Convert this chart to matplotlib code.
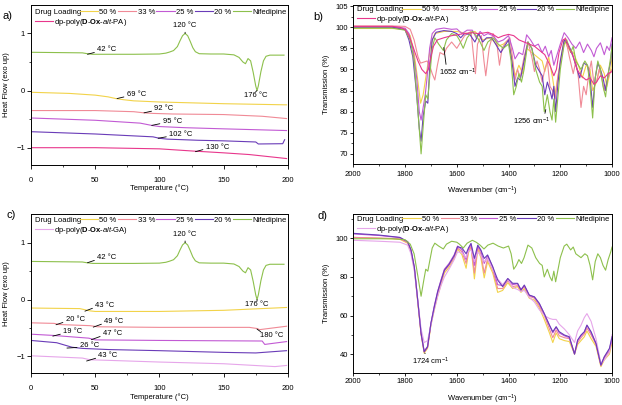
import matplotlib
matplotlib.use('Agg')
import matplotlib.pyplot as plt
from matplotlib.lines import Line2D

plt.rcParams['font.family'] = ['Liberation Sans', 'DejaVu Sans']
plt.rcParams['mathtext.fontset'] = 'custom'
plt.rcParams['mathtext.rm'] = 'Liberation Sans'
plt.rcParams['mathtext.it'] = 'Liberation Sans:italic'
plt.rcParams['mathtext.bf'] = 'Liberation Sans:bold'

# colours of the series
c50 = '#f2d34a'
c33 = '#f08a96'
c25 = '#c25ad4'
c20 = '#6a3cb8'
cnif = '#8dc04c'
cpa = '#e8378c'
cga = '#e6a6ea'

load_labels = ['50 %', '33 %', '25 %', '20 %', 'Nifedipine']
pa_label = 'dp-poly($\\mathbf{D}$-$\\mathbf{Ox}$-$\\mathit{alt}$-PA)'
ga_label = 'dp-poly($\\mathbf{D}$-$\\mathbf{Ox}$-$\\mathit{alt}$-GA)'

# ---- DSC data (temperature in C, heat flow) ----
nif_t = [0, 20, 40, 44, 48, 60, 80, 100, 105, 108, 111, 114, 116, 118, 120, 122, 124, 126, 128, 131,
         140, 150, 158, 162, 165, 167, 169, 171, 173, 175, 176, 177, 179, 181, 183, 186, 197]
nif_h = [0.67, 0.665, 0.66, 0.645, 0.635, 0.635, 0.635, 0.64, 0.655, 0.675, 0.7, 0.77, 0.87, 0.96, 1.0, 0.96,
         0.86, 0.75, 0.68, 0.645, 0.64, 0.64, 0.625, 0.58, 0.5, 0.47, 0.56, 0.52, 0.32, 0.08, 0.0, 0.08,
         0.33, 0.52, 0.6, 0.62, 0.62]

a50_t = [0, 30, 50, 60, 66, 72, 80, 100, 150, 199]
a50_h = [-0.03, -0.05, -0.08, -0.11, -0.14, -0.16, -0.18, -0.2, -0.23, -0.25]
a33_t = [0, 50, 80, 88, 95, 110, 150, 180, 199]
a33_h = [-0.35, -0.35, -0.37, -0.39, -0.4, -0.41, -0.42, -0.45, -0.49]
a25_t = [0, 50, 85, 94, 100, 120, 150, 199]
a25_h = [-0.48, -0.52, -0.57, -0.61, -0.63, -0.65, -0.67, -0.7]
a20_t = [0, 50, 95, 100, 106, 130, 150, 175, 177, 196, 197.5]
a20_h = [-0.72, -0.76, -0.81, -0.835, -0.85, -0.87, -0.88, -0.9, -0.935, -0.93, -0.86]
apa_t = [0, 50, 100, 127, 135, 150, 170, 199]
apa_h = [-1.0, -1.0, -1.02, -1.06, -1.07, -1.09, -1.12, -1.19]

c50_t = [0, 38, 42, 46, 50, 100, 150, 199]
c50_h = [-0.15, -0.16, -0.18, -0.2, -0.21, -0.21, -0.19, -0.14]
c33_t = [0, 18, 22, 46, 52, 100, 170, 176, 178, 199]
c33_h = [-0.41, -0.42, -0.44, -0.46, -0.48, -0.49, -0.49, -0.51, -0.53, -0.47]
c25_t = [0, 16, 22, 45, 50, 100, 180, 182, 199]
c25_h = [-0.61, -0.63, -0.64, -0.68, -0.71, -0.72, -0.73, -0.79, -0.74]
c20_t = [0, 20, 26, 32, 40, 60, 100, 150, 175, 199]
c20_h = [-0.72, -0.76, -0.8, -0.84, -0.86, -0.88, -0.9, -0.93, -0.94, -0.9]
cga_t = [0, 40, 46, 60, 100, 150, 190, 199]
cga_h = [-0.99, -1.03, -1.06, -1.07, -1.1, -1.13, -1.18, -1.16]

# ---- FTIR data (wavenumber, transmission %) ----
nif_wn = [2000, 1850, 1800, 1780, 1765, 1750, 1738, 1728, 1720, 1712, 1705, 1695, 1685, 1670, 1652,
          1640, 1620, 1600, 1590, 1575, 1560, 1540, 1525, 1510, 1495, 1480, 1460, 1440, 1420, 1400,
          1390, 1380, 1370, 1360, 1350, 1340, 1325, 1310, 1295, 1280, 1270, 1262, 1250, 1240, 1232,
          1225, 1218, 1210, 1200, 1185, 1175, 1160, 1150, 1140, 1120, 1105, 1095, 1085, 1075, 1065,
          1055, 1045, 1035, 1025, 1015, 1005, 1000]
nif_tr = [99.8, 99.8, 99.3, 97, 92, 80, 70, 78, 84, 83, 88, 95, 97.5, 96, 94.5,
          97, 98.5, 98, 97, 95, 97.5, 99, 98, 96.5, 94.5, 96.5, 97.5, 96, 95, 96,
          92, 84, 86, 89, 87, 90, 96.5, 95, 90, 87, 86, 80, 84, 80, 78,
          83, 77.5, 83, 90, 96, 97, 94, 95.5, 92, 90, 92, 91, 86, 78.5, 88,
          92, 90, 86, 83.5, 89, 93, 95.5]

b50_wn = [2000, 1850, 1800, 1780, 1765, 1750, 1740, 1730, 1720, 1710, 1700, 1685, 1650, 1600, 1560,
          1530, 1500, 1470, 1440, 1420, 1400, 1385, 1375, 1360, 1345, 1330, 1310, 1290, 1270, 1260,
          1245, 1230, 1220, 1205, 1185, 1170, 1150, 1130, 1115, 1100, 1085, 1075, 1060, 1045, 1030,
          1020, 1005, 1000]
b50_tr = [99.7, 99.7, 99.5, 98, 94, 87, 82, 84, 88, 92, 96, 98.5, 99, 99, 98.5,
          99, 97, 97.5, 95.5, 96, 97, 92, 88.5, 91, 89, 95, 94, 93, 92, 89.5,
          93, 88, 84, 90, 97, 95, 94, 91, 88, 91, 90, 85, 87, 91, 89,
          86, 90, 93]

b33_wn = [2000, 1850, 1800, 1780, 1765, 1750, 1740, 1725, 1715, 1705, 1695, 1685, 1675, 1665, 1650,
          1640, 1620, 1600, 1585, 1570, 1545, 1535, 1528, 1520, 1505, 1495, 1488, 1475, 1460, 1445,
          1435, 1425, 1410, 1395, 1385, 1375, 1365, 1355, 1340, 1325, 1310, 1300, 1290, 1280, 1270,
          1260, 1250, 1240, 1230, 1220, 1210, 1195, 1180, 1165, 1150, 1140, 1130, 1120, 1110, 1100,
          1090, 1080, 1070, 1060, 1050, 1040, 1030, 1020, 1010, 1000]
b33_tr = [100.3, 100.3, 100.2, 99.5, 97, 93, 91.5, 91.8, 92, 91, 89, 87.5, 91, 94, 93.5,
          95, 96.5, 95, 96.5, 98, 99, 93, 89, 96, 98, 92, 88.5, 95, 98.5, 96,
          91, 95, 96.5, 97.5, 93, 87.5, 90, 88, 93, 96.5, 93, 89.5, 92, 90, 87,
          90, 92, 86, 85, 83, 88, 93, 97.5, 93, 89, 92, 88, 81, 86, 84,
          89, 92, 86.5, 87, 90, 88, 85, 87, 89, 90]

b25_wn = [2000, 1850, 1800, 1785, 1770, 1755, 1745, 1738, 1730, 1722, 1715, 1705, 1695, 1680, 1650,
          1620, 1600, 1580, 1560, 1540, 1525, 1510, 1495, 1480, 1460, 1440, 1420, 1400, 1385, 1375,
          1360, 1345, 1330, 1315, 1300, 1285, 1270, 1258, 1245, 1235, 1225, 1215, 1200, 1185, 1170,
          1155, 1140, 1125, 1110, 1095, 1080, 1070, 1060, 1045, 1030, 1020, 1010, 1000]
b25_tr = [100, 100, 99.8, 98.5, 95, 88, 80, 78, 81, 84, 88, 95, 98.5, 99.5, 99.8,
          99.5, 99.6, 98.5, 99.3, 99.3, 97.5, 99, 98, 98.5, 98, 96.5, 97, 98, 95, 92.5,
          94, 93.5, 98.2, 97, 95.5, 96, 94, 95.5, 93, 94.5, 91, 93, 96, 98.7, 97.5,
          96, 95, 96.5, 94, 96, 94.5, 93, 95, 96.3, 93.5, 95.5, 94.5, 97.5]

b20_wn = [2000, 1850, 1800, 1785, 1770, 1755, 1745, 1738, 1730, 1720, 1712, 1705, 1695, 1680, 1650,
          1620, 1600, 1585, 1570, 1550, 1530, 1515, 1500, 1485, 1465, 1445, 1430, 1415, 1400, 1385,
          1375, 1365, 1355, 1340, 1325, 1310, 1295, 1280, 1270, 1260, 1250, 1240, 1232, 1225, 1218,
          1210, 1200, 1185, 1170, 1155, 1140, 1125, 1110, 1095, 1085, 1075, 1065, 1055, 1045, 1035,
          1025, 1015, 1005, 1000]
b20_tr = [100, 100, 99.4, 97, 93, 84, 76, 73, 79, 82.5, 82, 90, 97, 98.8, 99.2,
          99, 98.5, 97.5, 98.5, 98.3, 96.5, 98.5, 96.5, 97.5, 97.5, 95.5, 94, 95.5, 97, 91,
          86, 88, 87.5, 92, 96.5, 95, 91, 89.5, 88.5, 84, 87, 85, 83, 86, 80,
          86, 92, 97, 96, 94, 91, 88, 91.5, 91, 88, 81, 88, 91.5, 90, 88,
          85, 89, 92, 96]

bpa_wn = [2000, 1850, 1820, 1800, 1785, 1770, 1750, 1735, 1720, 1710, 1700, 1690, 1675, 1650, 1620,
          1600, 1570, 1540, 1520, 1500, 1480, 1460, 1440, 1420, 1400, 1380, 1360, 1340, 1320, 1300,
          1280, 1260, 1240, 1225, 1215, 1205, 1190, 1180, 1165, 1150, 1135, 1120, 1100, 1085, 1070,
          1060, 1045, 1030, 1015, 1000]
bpa_tr = [100.2, 100.2, 100, 99.5, 98, 95.5, 92, 90, 89, 90, 93, 95.5, 97, 97.5, 98,
          98.2, 98.5, 98.7, 98.5, 98.6, 98.8, 98.3, 97.5, 98, 98.3, 98, 97, 96.5, 96, 95.5,
          94.5, 93.5, 91, 88.5, 90, 94, 97, 97.3, 95, 93, 90, 88.5, 87.5, 88, 86.5,
          87, 88.5, 88, 89, 89.5]

d_wn = [2000, 1900, 1820, 1790, 1777, 1764, 1751, 1738, 1726, 1713, 1700, 1687, 1674, 1661, 1648,
        1630, 1610, 1597, 1580, 1564, 1555, 1545, 1532, 1519, 1507, 1494, 1481, 1461, 1442, 1423,
        1403, 1384, 1365, 1352, 1339, 1320, 1300, 1281, 1262, 1242, 1229, 1216, 1204, 1184, 1165,
        1145, 1133, 1120, 1107, 1097, 1081, 1062, 1043, 1030, 1010, 1000]
d50_tr = [100.5, 100, 99.5, 97.5, 93, 84, 67, 50, 40.5, 43, 55, 63, 70, 76, 82,
          85, 89.5, 94.5, 91.5, 84.5, 92.5, 95.5, 79, 94.5, 90, 79.5, 88, 82, 72, 73,
          77, 74, 75, 72, 74, 69, 68, 64, 58, 51, 46, 51, 48, 47, 46.5,
          40, 45, 47, 49, 52, 48, 44, 33.5, 37, 40, 46]
d33_tr = [100.5, 100.2, 99.8, 97.8, 93.5, 84.5, 67.5, 50.5, 41, 43.5, 55.5, 64, 71, 77, 83,
          86, 90, 95, 93, 87, 93.5, 96, 82, 95.5, 92, 82, 89.5, 83.5, 74, 74,
          78, 75, 75.5, 73, 75, 70, 69, 65, 60, 53, 48.5, 52.5, 49.5, 48.5, 48,
          40.5, 46, 48.5, 50.5, 53.5, 50, 45, 34, 38, 41.5, 47]
d25_tr = [102.3, 101.5, 100.4, 98.2, 94, 85, 68, 51, 41.5, 44, 56, 65, 72.5, 78.5, 84,
          87, 91.5, 96, 94, 89, 94.5, 97, 86, 96, 93.5, 87, 91, 85, 76, 75.5,
          79, 76, 76.5, 73.5, 75.5, 70.5, 69.5, 66, 61, 55, 51, 54, 51, 49.5, 48.5,
          40, 47, 49.5, 51.5, 55, 51, 45.5, 34.5, 38.5, 42.5, 48]
d20_tr = [102.6, 101.7, 100.5, 98.3, 94, 85, 68, 50.7, 41.2, 43.8, 56, 64.5, 72.3, 78, 83.5,
          86.5, 91, 95.7, 95, 92, 95, 97.4, 89.6, 96.5, 94, 89.6, 91.4, 85.3, 78.4, 75,
          79.2, 76.7, 76.7, 73.2, 75.8, 70.6, 69.7, 66.3, 61, 55, 51.6, 54.2, 51.6, 49.9, 49,
          40, 47.3, 49.9, 51.6, 55, 51.6, 45.5, 34.3, 38.6, 43, 49]
dpa_tr = [99, 98.5, 98, 96.5, 92, 83, 68, 53, 46, 47, 55, 63, 70, 75.5, 80,
          84, 89, 93, 92.5, 90, 93.5, 94, 88, 93, 91, 88, 89.5, 84, 79, 76,
          79, 74.5, 73.5, 72.5, 73, 69.5, 67, 63, 60, 58.5, 58, 58, 55.5, 53, 50,
          46, 52, 55, 59, 61, 57, 48, 35, 37, 41, 50]

FS = 5.5
LW = 0.8


def legend(ax, last, last_col, y1, y2):
    ax.text(0.014, y1, 'Drug Loading', transform=ax.transAxes, fontsize=FS, va='center')
    hs = [Line2D([], [], color=c, lw=LW) for c in [c50, c33, c25, c20, cnif]]
    lg = ax.legend(hs, load_labels, ncol=5, loc='center left', bbox_to_anchor=(0.19, y1),
                   frameon=False, fontsize=FS, handlelength=2.4, handletextpad=0.15,
                   columnspacing=0.2, borderpad=0, borderaxespad=0)
    ax.add_artist(lg)
    ax.legend([Line2D([], [], color=last_col, lw=LW)], [last], loc='center left',
              bbox_to_anchor=(0.014, y2), frameon=False, fontsize=FS, handlelength=2.4,
              handletextpad=0.15, borderpad=0, borderaxespad=0)


def note(ax, txt, x, y, tx, ty, rel=(0, 0.25), ha='left'):
    ax.annotate(txt, xy=(x, y), xytext=(tx, ty), fontsize=FS, ha=ha, va='center',
                arrowprops=dict(arrowstyle='-', color='k', lw=0.6, shrinkA=0, shrinkB=0, relpos=rel))


def style(ax, xpad, ypad, ticklen):
    for s in ax.spines.values():
        s.set_linewidth(0.7)
    ax.tick_params(which='major', direction='out', length=ticklen, width=0.6, labelsize=FS)
    ax.tick_params(which='minor', direction='out', length=ticklen * 0.55, width=0.5)
    ax.tick_params(axis='x', which='major', pad=xpad)
    ax.tick_params(axis='y', which='major', pad=ypad)


def dsc(ax, curves, last, last_col, notes, ly1, ly2):
    for t, h, c in curves:
        ax.plot(t, h, color=c, lw=LW)
    ax.set_xlim(0, 200)
    ax.set_ylim(-1.3, 1.5)
    ax.set_xticks([0, 50, 100, 150, 200])
    ax.set_xticks([25, 75, 125, 175], minor=True)
    ax.set_yticks([-1, 0, 1])
    ax.set_yticks([-0.5, 0.5], minor=True)
    ax.set_xlabel('Temperature (°C)', fontsize=FS)
    ax.set_ylabel('Heat Flow (exo up)', fontsize=FS)
    ax.xaxis.label.set_va('center')
    ax.yaxis.label.set_va('center')
    style(ax, 5.5, 1.3, 3)
    for n in notes:
        note(ax, *n)
    legend(ax, last, last_col, ly1, ly2)


def ftir(ax, curves, last, last_col, ylim, yt, ytm, ly1, ly2):
    for w, tr, c in curves:
        ax.plot(w, tr, color=c, lw=LW)
    ax.set_xlim(2000, 1000)
    ax.set_ylim(*ylim)
    ax.set_xticks([2000, 1800, 1600, 1400, 1200, 1000])
    ax.set_xticks([1900, 1700, 1500, 1300, 1100], minor=True)
    ax.set_yticks(yt)
    ax.set_yticks(ytm, minor=True)
    ax.set_xlabel('Wavenumber (cm$^{-1}$)', fontsize=FS)
    ax.set_ylabel('Transmission (%)', fontsize=FS)
    ax.xaxis.label.set_va('center')
    ax.yaxis.label.set_va('center')
    legend(ax, last, last_col, ly1, ly2)


fig = plt.figure(figsize=(6.22, 4.05), dpi=100)

# a) DSC PA
ax = fig.add_axes([0.0498, 0.593, 0.413, 0.395])
dsc(ax, [(a50_t, a50_h, c50), (a33_t, a33_h, c33), (a25_t, a25_h, c25), (a20_t, a20_h, c20),
         (nif_t, nif_h, cnif), (apa_t, apa_h, cpa)], pa_label, cpa,
    [('42 °C', 44, 0.635, 51.5, 0.71), ('69 °C', 67, -0.14, 74.5, -0.07),
     ('92 °C', 88, -0.39, 96, -0.32), ('95 °C', 94, -0.61, 102.5, -0.54),
     ('102 °C', 99, -0.835, 107.5, -0.77), ('130 °C', 128, -1.07, 136, -0.99),
     ('120 °C', 120, 1.0, 120, 1.13, (0.5, 0), 'center'),
     ('176 °C', 176, 0.0, 175, -0.08, (0.5, 1), 'center')], 0.954, 0.889)
ax.xaxis.set_label_coords(0.5, -0.146)
ax.yaxis.set_label_coords(-0.097, 0.5)

# b) FTIR PA
ax = fig.add_axes([0.568, 0.594, 0.416, 0.393])
ftir(ax, [(b50_wn, b50_tr, c50), (b33_wn, b33_tr, c33), (b25_wn, b25_tr, c25), (b20_wn, b20_tr, c20),
          (nif_wn, nif_tr, cnif), (bpa_wn, bpa_tr, cpa)], pa_label, cpa,
     (67.5, 105.2), [70, 75, 80, 85, 90, 95, 100, 105], [72.5, 77.5, 82.5, 87.5, 92.5, 97.5, 102.5],
     0.973, 0.910)
style(ax, 2, 1.1, 2.5)
note(ax, '1652 cm$^{-1}$', 1650, 95.2, 1669, 89.2, (0.2, 1))
note(ax, '1256 cm$^{-1}$', 1256, 80.5, 1384, 77.6, (0.85, 1))
ax.xaxis.set_label_coords(0.5, -0.168)
ax.yaxis.set_label_coords(-0.105, 0.5)

# c) DSC GA
ax = fig.add_axes([0.0498, 0.078, 0.413, 0.393])
dsc(ax, [(c50_t, c50_h, c50), (c33_t, c33_h, c33), (c25_t, c25_h, c25), (c20_t, c20_h, c20),
         (nif_t, nif_h, cnif), (cga_t, cga_h, cga)], ga_label, cga,
    [('42 °C', 44, 0.647, 51.5, 0.735), ('43 °C', 42, -0.205, 50, -0.105),
     ('20 °C', 19.5, -0.444, 27, -0.357), ('49 °C', 48.5, -0.486, 57, -0.386),
     ('19 °C', 17, -0.644, 25, -0.567), ('47 °C', 47, -0.707, 56, -0.602),
     ('26 °C', 28, -0.854, 38, -0.81), ('43 °C', 43.3, -1.082, 52.5, -0.988),
     ('180 °C', 176, -0.52, 178, -0.63, (0.05, 1)),
     ('120 °C', 120, 1.0, 120, 1.14, (0.5, 0), 'center'),
     ('176 °C', 176, 0.0, 176, -0.09, (0.5, 1), 'center')], 0.962, 0.9)
ax.xaxis.set_label_coords(0.5, -0.147)
ax.yaxis.set_label_coords(-0.097, 0.5)

# d) FTIR PA drug loading
ax = fig.add_axes([0.568, 0.078, 0.416, 0.393])
ftir(ax, [(d_wn, d50_tr, c50), (d_wn, d33_tr, c33), (d_wn, d25_tr, c25), (d_wn, dpa_tr, cga),
          (d_wn, d20_tr, c20), (nif_wn, nif_tr, cnif)], pa_label, cga,
     (30, 112.5), [40, 60, 80, 100], [50, 70, 90, 110], 0.969, 0.906)
style(ax, 0.8, 1.1, 2.5)
note(ax, '1724 cm$^{-1}$', 1724, 40.5, 1701, 36, (0.5, 1), 'center')
ax.xaxis.set_label_coords(0.5, -0.163)
ax.yaxis.set_label_coords(-0.105, 0.5)

fig.text(0.004, 1 - 16 / 405, 'a)', fontsize=8, va='center')
fig.text(0.504, 1 - 16.7 / 405, 'b)', fontsize=8, va='center')
fig.text(0.011, 1 - 215 / 405, 'c)', fontsize=8, va='center')
fig.text(0.511, 1 - 216 / 405, 'd)', fontsize=8, va='center')

fig.savefig('out.png', dpi=100)
